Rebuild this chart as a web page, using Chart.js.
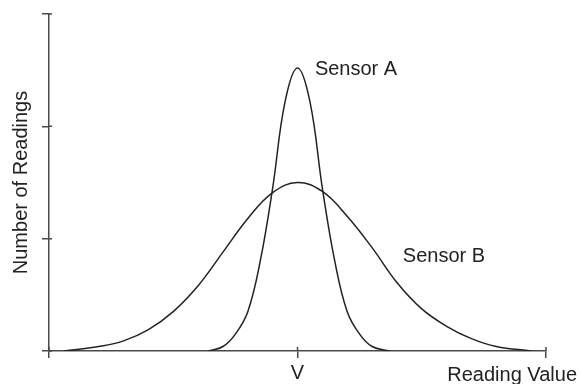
<!DOCTYPE html>
<html>
<head>
<meta charset="utf-8">
<script src="https://cdn.jsdelivr.net/npm/chart.js@4/dist/chart.umd.min.js"></script>
<style>
  html, body { margin: 0; padding: 0; background: #fff; }
</style>
</head>
<body>
<canvas id="chart" width="581" height="384"></canvas>
<script>
// values (x in reading units, V = 5)
const sensorAX = [3.2, 3.5, 3.75, 4.0, 4.25, 4.5, 4.75, 5.0, 5.25, 5.5, 5.75, 6.0, 6.25, 6.5, 6.85];
const sensorAY = [0, 0.04, 0.15, 0.35, 0.80, 1.45, 2.22, 2.52, 2.22, 1.45, 0.80, 0.35, 0.15, 0.04, 0];

const sensorBX = [0.3, 1, 1.5, 2, 2.5, 3, 3.5, 4, 4.5, 5, 5.5, 6, 6.5, 7, 7.5, 8, 8.5, 9, 9.7];
const sensorBY = [0, 0.04, 0.09, 0.19, 0.35, 0.58, 0.88, 1.18, 1.41, 1.50, 1.42, 1.20, 0.92, 0.61, 0.375, 0.22, 0.11, 0.04, 0];

const xTickLabels = { 5: 'V' };
const seriesNames = ['Sensor A', 'Sensor B'];
const axisTitles = ['Reading Value', 'Number of Readings'];

const FONT = '"Liberation Sans", Arial, Helvetica, sans-serif';
const AXIS = '#4a4a4a';
const INK = '#222';

const toPoints = (xs, ys) => xs.map((x, i) => ({ x: x, y: ys[i] }));

// short stubs so tick marks cross the axis line, plus the free text
const extras = {
  id: 'extras',
  afterDraw(chart) {
    const { ctx, scales: { x, y } } = chart;
    ctx.save();
    ctx.strokeStyle = AXIS;
    ctx.lineWidth = 1.5;
    ctx.beginPath();
    y.ticks.forEach(t => {
      const py = y.getPixelForValue(t.value);
      ctx.moveTo(x.left, py); ctx.lineTo(x.left + 3, py);
    });
    x.ticks.forEach(t => {
      const px = x.getPixelForValue(t.value);
      ctx.moveTo(px, y.bottom); ctx.lineTo(px, y.bottom - 4);
    });
    ctx.stroke();

    ctx.fillStyle = INK;
    ctx.font = '20px ' + FONT;
    ctx.textBaseline = 'alphabetic';
    ctx.textAlign = 'left';
    ctx.fillText(seriesNames[0], x.getPixelForValue(5.35), y.getPixelForValue(2.46));
    ctx.fillText(seriesNames[1], x.getPixelForValue(7.12), y.getPixelForValue(0.79));

    ctx.textAlign = 'right';
    ctx.fillText(axisTitles[0], chart.width - 4, 381);

    ctx.translate(27, (y.top + y.bottom) / 2);
    ctx.rotate(-Math.PI / 2);
    ctx.textAlign = 'center';
    ctx.fillText(axisTitles[1], 0, 0);
    ctx.restore();
  }
};

new Chart(document.getElementById('chart').getContext('2d'), {
  type: 'line',
  data: {
    datasets: [
      { label: seriesNames[0], data: toPoints(sensorAX, sensorAY) },
      { label: seriesNames[1], data: toPoints(sensorBX, sensorBY) }
    ]
  },
  options: {
    responsive: false,
    animation: false,
    devicePixelRatio: 1,
    layout: { padding: { top: 14, right: 35, left: 0, bottom: 0 } },
    elements: {
      point: { radius: 0 },
      line: { borderColor: INK, borderWidth: 1.5, tension: 0.4, capBezierPoints: true, fill: false }
    },
    plugins: { legend: { display: false }, tooltip: { enabled: false } },
    scales: {
      x: {
        type: 'linear',
        min: 0,
        max: 10,
        afterFit: s => { s.height = 33; },
        ticks: {
          stepSize: 5,
          autoSkip: false,
          maxRotation: 0,
          padding: 3,
          color: INK,
          font: { size: 20, family: FONT },
          callback: v => xTickLabels[v] || ''
        },
        grid: { drawOnChartArea: false, tickLength: 7, color: AXIS, lineWidth: 1.5 },
        border: { color: AXIS, width: 1.5 }
      },
      y: {
        min: 0,
        max: 3,
        afterFit: s => { s.width = 49; },
        ticks: { stepSize: 1, callback: () => '' },
        grid: { drawOnChartArea: false, tickLength: 7, color: AXIS, lineWidth: 1.5 },
        border: { color: AXIS, width: 1.5 }
      }
    }
  },
  plugins: [extras]
});
</script>
</body>
</html>
